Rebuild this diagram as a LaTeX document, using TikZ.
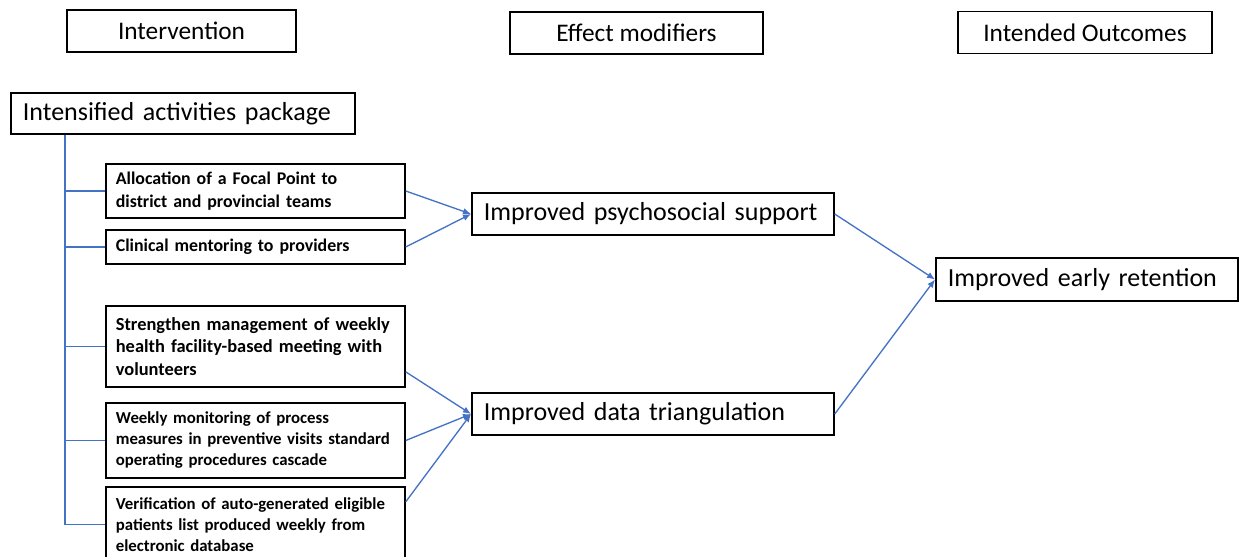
\documentclass[tikz,border=0pt]{standalone}
\usepackage{fontspec}
\setmainfont{Carlito}
\usetikzlibrary{arrows.meta}
\definecolor{treeblue}{RGB}{68,114,196}
\newcommand{\tline}[1]{\mbox{#1}}
\begin{document}
\begin{tikzpicture}[x=0.75pt,y=-0.75pt,
  box/.style={draw=black, line width=1.3pt, inner sep=0pt},
  hdr/.style={box, font=\fontsize{19}{22}\selectfont, minimum height=31.5pt},
  big/.style={box, font=\fontsize{19.5}{23}\selectfont, align=left, anchor=west, inner xsep=9pt, minimum height=31.5pt},
  act/.style={box, font=\fontsize{13.4}{17.25}\selectfont\bfseries, align=left, anchor=west, inner xsep=7.5pt, text width=209.25pt},
  actsmall/.style={act, font=\fontsize{12.6}{15.75}\selectfont\bfseries},
  tree/.style={draw=treeblue, line width=1pt},
  conn/.style={tree, -{Latex[length=6pt,width=5pt]}}]
\useasboundingbox (0,0) rectangle (1239,557);
% headers
\node[hdr, minimum width=171.75pt] (interv) at (181.5,31) {Intervention};
\node[hdr, minimum width=189.75pt] (effect) at (636.5,33) {Effect modifiers};
\node[hdr, minimum width=190.5pt] (outc) at (1085,32.5) {Intended Outcomes};
% package
\node[big, text width=240pt, minimum height=30.75pt] (intens) at (10,113.5) {Intensified activities package};
% activities
\node[act, minimum height=40.5pt] (alloc) at (105,191) {\tline{Allocation of a Focal Point to}\\\tline{district and provincial teams}};
\node[act, minimum height=25.5pt] (clin) at (105,247) {\tline{Clinical mentoring to providers}};
\node[act, font=\fontsize{13.8}{17}\selectfont\bfseries, minimum height=60.75pt] (stren) at (105,346.5) {\tline{Strengthen management of weekly}\\\tline{health facility-based meeting with}\\\tline{volunteers}};
\node[actsmall, minimum height=56.25pt] (weekly) at (105,440.5) {\tline{Weekly monitoring of process}\\\tline{measures in preventive visits standard}\\\tline{operating procedures cascade}};
\node[actsmall, minimum height=56.25pt] (verif) at (105,524.5) {\tline{Verification of auto-generated eligible}\\\tline{patients list produced weekly from}\\\tline{electronic database}};
% effect modifiers
\node[big, text width=253.5pt] (psych) at (471,214) {Improved psychosocial support};
\node[big, text width=253.5pt] (data) at (471,414) {Improved data triangulation};
% outcome
\node[big, text width=208.5pt, minimum height=32.25pt] (ret) at (935,279.5) {Improved early retention};
% tree
\coordinate (tx) at (65,0);
\draw[tree] (tx |- intens.south) -- (tx |- verif.west);
\foreach \n in {alloc,clin,stren,weekly,verif}
  \draw[tree] (tx |- \n.west) -- (\n.west);
% connectors
\draw[conn] (alloc.east) -- (psych.west);
\draw[conn] (clin.east) -- (psych.west);
\draw[conn] ([yshift=-19pt]stren.east) -- (data.west);
\draw[conn] (weekly.east) -- (data.west);
\draw[conn] ([yshift=17pt]verif.east) -- (data.west);
\draw[conn] (psych.east) -- (ret.west);
\draw[conn] (data.east) -- (ret.west);
\end{tikzpicture}
\end{document}
